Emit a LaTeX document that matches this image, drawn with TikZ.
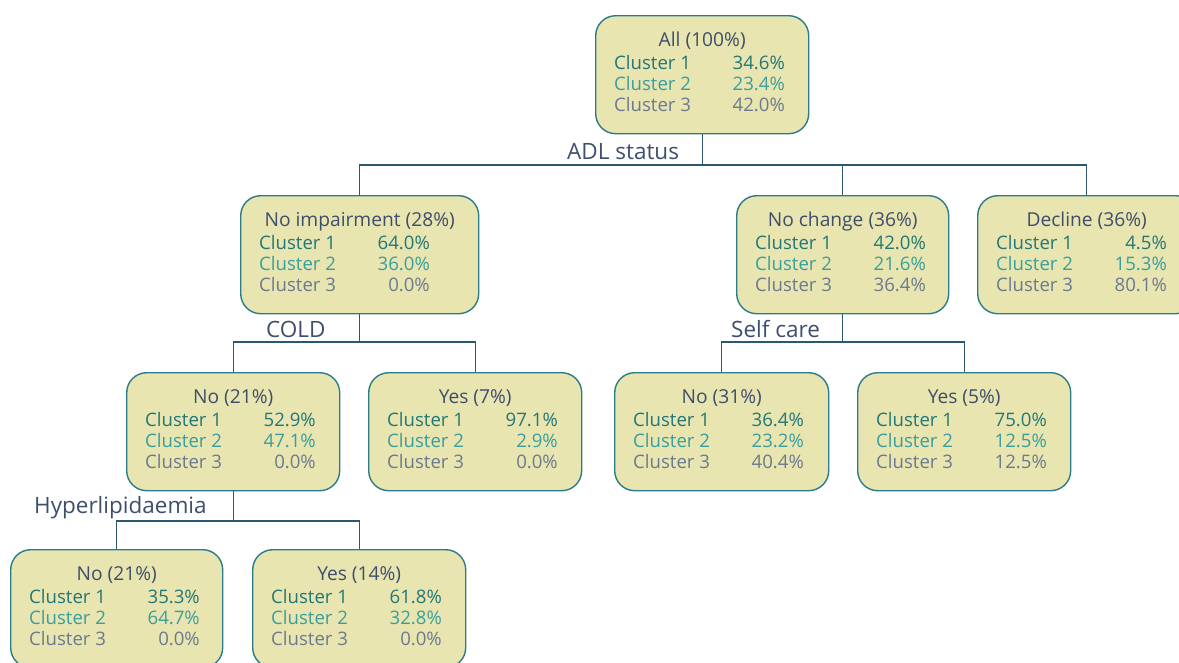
\documentclass[tikz,border=0pt]{standalone}
\usepackage{fontspec}
\setmainfont{Open Sans}
\definecolor{boxfill}{HTML}{E8E5B0}
\definecolor{boxedge}{HTML}{2A7C8A}
\definecolor{connc}{HTML}{2B5870}
\definecolor{ttlc}{HTML}{3E4E6B}
\definecolor{cone}{HTML}{237777}
\definecolor{ctwo}{HTML}{3A9E9E}
\definecolor{cthree}{HTML}{6B7A8F}
\newcommand{\treebox}[8]{%
  \node[tbox, minimum width=#4pt] (#1) at (#2,#3) {};
  \node[ttl, anchor=base] (#1-t) at ([yshift=-31.7pt]#1.north) {#5};
  \node[txt, cone, anchor=base west] (#1-l1) at ([xshift=19pt,yshift=-54pt]#1.north west) {Cluster 1};
  \node[txt, cone, anchor=base east] (#1-v1) at ([xshift=190pt,yshift=-54pt]#1.north west) {#6};
  \node[txt, ctwo, anchor=base west] (#1-l2) at ([xshift=19pt,yshift=-75.3pt]#1.north west) {Cluster 2};
  \node[txt, ctwo, anchor=base east] (#1-v2) at ([xshift=190pt,yshift=-75.3pt]#1.north west) {#7};
  \node[txt, cthree, anchor=base west] (#1-l3) at ([xshift=19pt,yshift=-96.6pt]#1.north west) {Cluster 3};
  \node[txt, cthree, anchor=base east] (#1-v3) at ([xshift=190pt,yshift=-96.6pt]#1.north west) {#8};
}
\begin{document}
\begin{tikzpicture}[x=1pt,y=-1pt,
  tbox/.style={draw=boxedge, fill=boxfill, rounded corners=20pt, line width=1.4pt,
    minimum height=118pt, inner sep=0pt, anchor=north west},
  txt/.style={font=\fontsize{18.6}{21}\selectfont, inner sep=0pt},
  ttl/.style={font=\fontsize{19.2}{21}\selectfont, inner sep=0pt, text=ttlc},
  lbl/.style={font=\fontsize{22.5}{26}\selectfont, inner sep=0pt, text=ttlc},
  conn/.style={draw=connc, line width=1.2pt}]
\useasboundingbox (0,0) rectangle (1179,662);
\clip (0,0) rectangle (1179,662);

\treebox{root}{595}{15}{213}{All (100\%)}{34.6\%}{23.4\%}{42.0\%}
\treebox{noimp}{240}{195}{238}{No impairment (28\%)}{64.0\%}{36.0\%}{0.0\%}
\treebox{nochg}{736}{195}{212}{No change (36\%)}{42.0\%}{21.6\%}{36.4\%}
\treebox{decl}{977}{195}{218}{Decline (36\%)}{4.5\%}{15.3\%}{80.1\%}
\treebox{nocold}{126}{372}{213}{No (21\%)}{52.9\%}{47.1\%}{0.0\%}
\treebox{yescold}{368}{372}{213}{Yes (7\%)}{97.1\%}{2.9\%}{0.0\%}
\treebox{nosc}{614}{372}{214}{No (31\%)}{36.4\%}{23.2\%}{40.4\%}
\treebox{yessc}{857}{372}{213}{Yes (5\%)}{75.0\%}{12.5\%}{12.5\%}
\treebox{nohl}{10}{549}{212}{No (21\%)}{35.3\%}{64.7\%}{0.0\%}
\treebox{yeshl}{252}{549}{213}{Yes (14\%)}{61.8\%}{32.8\%}{0.0\%}

\node[lbl, anchor=base west] (adl) at (567,159) {ADL status};
\node[lbl, anchor=base west] (cold) at (266,337) {COLD};
\node[lbl, anchor=base west] (selfcare) at (731,337) {Self care};
\node[lbl, anchor=base west] (hyper) at (34,513) {Hyperlipidaemia};

\coordinate (b1) at (root.south |- 0,165);
\draw[conn] (root.south) -- (b1);
\draw[conn] (b1) -| (noimp.north);
\draw[conn] (b1) -| (nochg.north);
\draw[conn] (b1) -| (decl.north);

\coordinate (b2) at (noimp.south |- 0,342);
\draw[conn] (noimp.south) -- (b2);
\draw[conn] (b2) -| (nocold.north);
\draw[conn] (b2) -| (yescold.north);

\coordinate (b3) at (nochg.south |- 0,342);
\draw[conn] (nochg.south) -- (b3);
\draw[conn] (b3) -| (nosc.north);
\draw[conn] (b3) -| (yessc.north);

\coordinate (b4) at (nocold.south |- 0,521);
\draw[conn] (nocold.south) -- (b4);
\draw[conn] (b4) -| (nohl.north);
\draw[conn] (b4) -| (yeshl.north);
\end{tikzpicture}
\end{document}
